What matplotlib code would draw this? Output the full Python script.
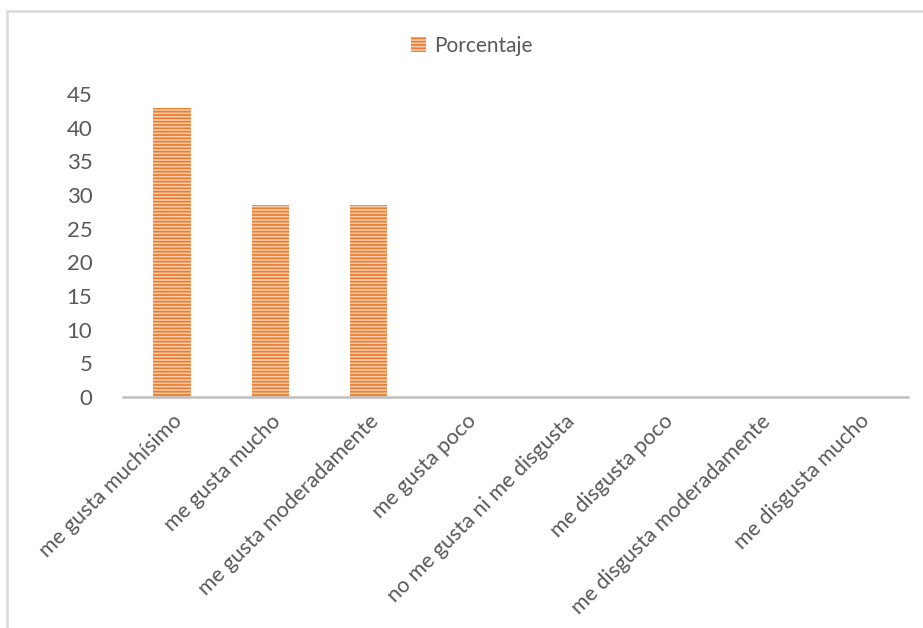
import matplotlib.pyplot as plt
import matplotlib.patches as patches

categorias = ["me gusta muchísimo", "me gusta mucho", "me gusta moderadamente",
              "me gusta poco", "no me gusta ni me disgusta", "me disgusta poco",
              "me disgusta moderadamente", "me disgusta mucho"]
porcentaje = [42.86, 28.57, 28.57, 0, 0, 0, 0, 0]
y_ticks = [0, 5, 10, 15, 20, 25, 30, 35, 40, 45]

plt.rcParams['font.family'] = ['Lato', 'DejaVu Sans']
plt.rcParams['hatch.linewidth'] = 1.3
plt.rcParams['hatch.color'] = '#ED7D31'

fig = plt.figure(figsize=(9.23, 6.28), dpi=100)
ax = fig.add_axes([123 / 923, 1 - 397 / 628, 785 / 923, 303 / 628])

x = range(len(categorias))
ax.bar(x, porcentaje, width=0.38, color='#F9D0B2', edgecolor='#ED7D31',
       linewidth=0, hatch='-----', label='Porcentaje')

ax.set_xlim(-0.5, len(categorias) - 0.5)
ax.set_ylim(0, 45)
ax.set_yticks(y_ticks)
ax.set_xticks(list(x))
ax.set_xticklabels(categorias, rotation=45, ha='right', va='top',
                   rotation_mode='anchor', fontsize=15.5, color='#595959')
ax.tick_params(axis='y', length=0, labelsize=16, labelcolor='#595959', pad=22)
ax.tick_params(axis='x', length=0, pad=10)

for s in ['top', 'right', 'left']:
    ax.spines[s].set_visible(False)
ax.spines['bottom'].set_color('#BFBFBF')
ax.spines['bottom'].set_linewidth(1.8)

leg = fig.legend(loc='center', bbox_to_anchor=(472 / 923, 1 - 46 / 628),
                 frameon=False, fontsize=15, handlelength=0.7, handleheight=0.7,
                 handletextpad=0.4)
for t in leg.get_texts():
    t.set_color('#595959')

# marco del grafico
fig.patches.append(patches.Rectangle((7 / 923, -0.05), 1.0, 1 - 11 / 628 + 0.05,
                                     transform=fig.transFigure, fill=False,
                                     edgecolor='#D9D9D9', linewidth=1.8))

fig.savefig('out.png', dpi=100)
